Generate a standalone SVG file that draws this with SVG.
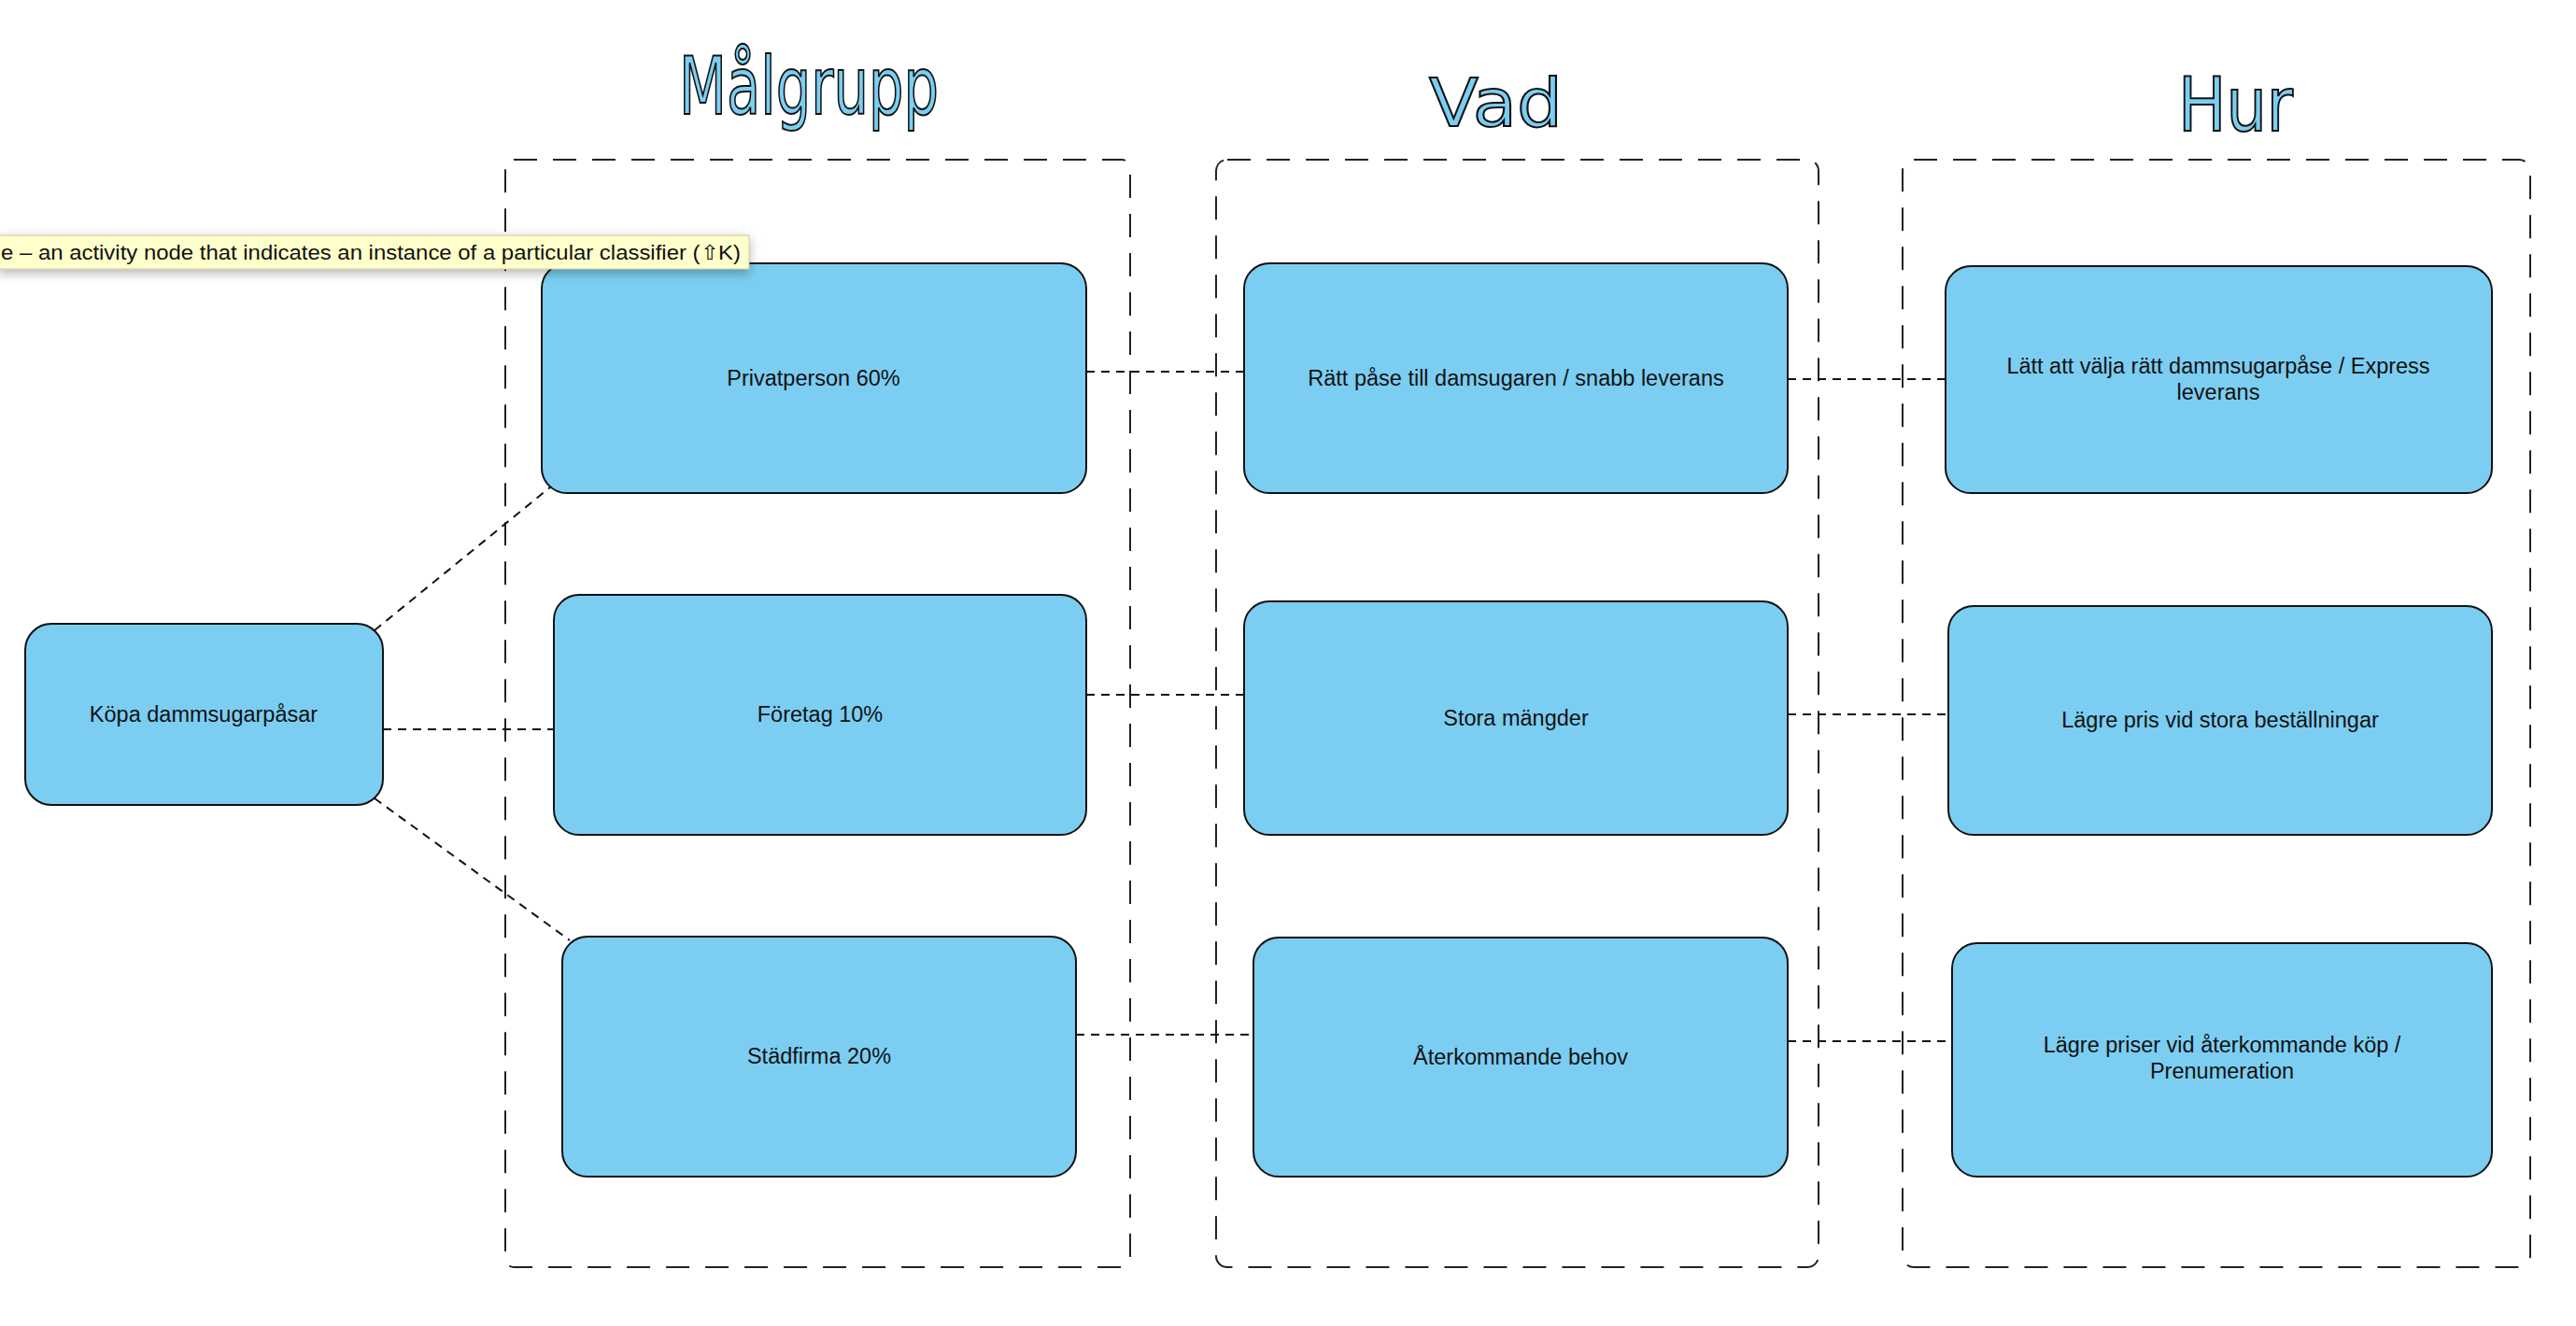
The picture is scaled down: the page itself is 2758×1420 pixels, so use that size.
<svg xmlns="http://www.w3.org/2000/svg" width="2758" height="1420" viewBox="0 0 2758 1420">
<defs>
<style>
.lane{fill:none;stroke:#222;stroke-width:2;stroke-dasharray:25 17}
.node{fill:#7bcef2;stroke:#111;stroke-width:2}
.lbl{font-family:"Liberation Sans",Arial,sans-serif;font-size:23.5px;fill:#111;text-anchor:middle}
.conn{stroke:#111;stroke-width:2;stroke-dasharray:9 7;fill:none}
.title{fill:#7bcef2;stroke:#111;stroke-width:2;text-anchor:start}
</style>
<filter id="shadow" x="-5%" y="-50%" width="110%" height="250%">
<feDropShadow dx="0" dy="4" stdDeviation="6" flood-color="#000" flood-opacity="0.3"/>
</filter>
</defs>
<rect width="2758" height="1420" fill="#fff"/>
<g id="titles">
<text class="title" x="727" y="122" font-family="'DejaVu Sans Condensed','DejaVu Sans',sans-serif" font-size="85" textLength="278" lengthAdjust="spacingAndGlyphs">Målgrupp</text>
<text class="title" x="1530" y="135" font-family="'DejaVu Sans',sans-serif" font-size="72" textLength="143" lengthAdjust="spacingAndGlyphs">Vad</text>
<text class="title" x="2332" y="140" font-family="'DejaVu Sans Condensed','DejaVu Sans',sans-serif" font-size="80" textLength="123" lengthAdjust="spacingAndGlyphs">Hur</text>
</g>
<g id="lanes">
<rect id="lane-malgrupp" class="lane" x="541" y="171" width="669" height="1186" rx="9"/>
<rect id="lane-vad" class="lane" x="1302" y="171" width="645" height="1186" rx="12"/>
<rect id="lane-hur" class="lane" x="2037" y="171" width="672" height="1186" rx="12"/>
</g>
<g id="connectors">
<line class="conn" x1="401" y1="675" x2="590" y2="521"/>
<line class="conn" x1="410" y1="781" x2="593" y2="781"/>
<line class="conn" x1="401" y1="855" x2="610" y2="1007"/>
<line class="conn" x1="1163" y1="398" x2="1332" y2="398"/>
<line class="conn" x1="1914" y1="406" x2="2083" y2="406"/>
<line class="conn" x1="1163" y1="744" x2="1332" y2="744"/>
<line class="conn" x1="1914" y1="765" x2="2086" y2="765"/>
<line class="conn" x1="1152" y1="1108" x2="1342" y2="1108"/>
<line class="conn" x1="1914" y1="1115" x2="2090" y2="1115"/>
</g>
<g id="n-kopa">
<rect class="node" x="27" y="668" width="383" height="194" rx="28"/>
<text class="lbl" x="218" y="773">Köpa dammsugarpåsar</text>
</g>
<g id="n-privat">
<rect class="node" x="580" y="282" width="583" height="246" rx="27"/>
<text class="lbl" x="871" y="413">Privatperson 60%</text>
</g>
<g id="n-foretag">
<rect class="node" x="593" y="637" width="570" height="257" rx="27"/>
<text class="lbl" x="878" y="773">Företag 10%</text>
</g>
<g id="n-stadfirma">
<rect class="node" x="602" y="1003" width="550" height="257" rx="27"/>
<text class="lbl" x="877" y="1139">Städfirma 20%</text>
</g>
<g id="n-ratt">
<rect class="node" x="1332" y="282" width="582" height="246" rx="27"/>
<text class="lbl" x="1623" y="413">Rätt påse till damsugaren / snabb leverans</text>
</g>
<g id="n-stora">
<rect class="node" x="1332" y="644" width="582" height="250" rx="27"/>
<text class="lbl" x="1623" y="777">Stora mängder</text>
</g>
<g id="n-aterkommande">
<rect class="node" x="1342" y="1004" width="572" height="256" rx="27"/>
<text class="lbl" x="1628" y="1140">Återkommande behov</text>
</g>
<g id="n-latt">
<rect class="node" x="2083" y="285" width="585" height="243" rx="27"/>
<text class="lbl" x="2375" y="400">Lätt att välja rätt dammsugarpåse / Express</text>
<text class="lbl" x="2375" y="428">leverans</text>
</g>
<g id="n-lagrepris">
<rect class="node" x="2086" y="649" width="582" height="245" rx="27"/>
<text class="lbl" x="2377" y="779">Lägre pris vid stora beställningar</text>
</g>
<g id="n-lagrepriser">
<rect class="node" x="2090" y="1010" width="578" height="250" rx="27"/>
<text class="lbl" x="2379" y="1127">Lägre priser vid återkommande köp /</text>
<text class="lbl" x="2379" y="1155">Prenumeration</text>
</g>
<g id="tooltip">
<rect x="-2" y="252" width="804" height="36" fill="#ffffcc" stroke="#c8c8a0" stroke-width="1" filter="url(#shadow)"/>
<text x="1" y="278" font-family="'Liberation Sans',Arial,sans-serif" font-size="22" fill="#111" textLength="792" lengthAdjust="spacingAndGlyphs">e – an activity node that indicates an instance of a particular classifier (⇧K)</text>
</g>
</svg>
